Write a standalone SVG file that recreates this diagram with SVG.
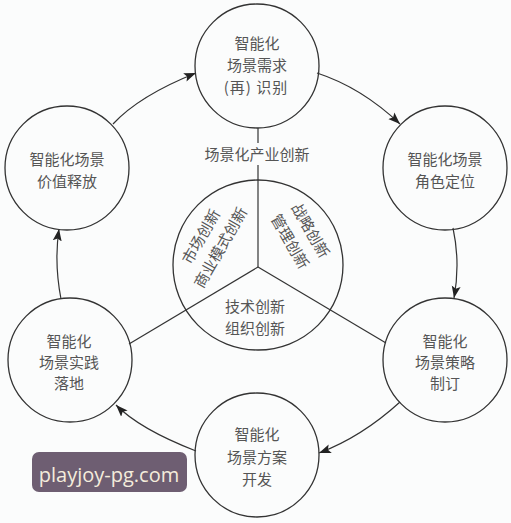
<svg xmlns="http://www.w3.org/2000/svg" width="511" height="523" viewBox="0 0 511 523">
<defs>
<style>
.c{fill:none;stroke:#333;stroke-width:1.3}
.l{fill:none;stroke:#333;stroke-width:1.2}
.t{font-family:"Noto Sans CJK SC","Noto Sans",sans-serif;font-size:15px;fill:#555;text-anchor:middle;dominant-baseline:central}
</style>
<marker id="ah" markerUnits="userSpaceOnUse" markerWidth="13" markerHeight="10" refX="12" refY="5" orient="auto">
<path d="M0,0.5 L12,5 L0,9.5 L2.5,5 z" fill="#222"/>
</marker>
</defs>
<rect width="511" height="523" fill="#fbfcfc"/>
<g id="connectors">
<path class="l" d="M317,73 Q361.5,87.5 400,124" marker-end="url(#ah)"/>
<path class="l" d="M453,228 Q460.5,263 454,298" marker-end="url(#ah)"/>
<path class="l" d="M400,402 Q361.5,437 319,453" marker-end="url(#ah)"/>
<path class="l" d="M196,451 Q139.5,429 116,405" marker-end="url(#ah)"/>
<path class="l" d="M61,299 Q54,262.5 59,229" marker-end="url(#ah)"/>
<path class="l" d="M113,124 Q139.5,95.5 196,73" marker-end="url(#ah)"/>
<line class="l" x1="258" y1="128" x2="258" y2="143"/>
<line class="l" x1="258" y1="165" x2="258" y2="267"/>
<line class="l" x1="258" y1="267" x2="129" y2="344"/>
<line class="l" x1="258" y1="267" x2="386" y2="343"/>
</g>
<g id="center">
<circle class="c" cx="258" cy="265" r="85"/>
<text class="t" x="257" y="153">场景化产业创新</text>
<text class="t" transform="translate(200,236) rotate(-60)">市场创新</text>
<text class="t" transform="translate(219.5,247) rotate(-60)">商业模式创新</text>
<text class="t" transform="translate(311.5,230) rotate(60)">战略创新</text>
<text class="t" transform="translate(291,241) rotate(60)">管理创新</text>
<text class="t" x="255" y="305">技术创新</text>
<text class="t" x="255" y="327">组织创新</text>
</g>
<g id="n-top">
<circle class="c" cx="257" cy="66" r="62"/>
<text class="t" x="257" y="42">智能化</text>
<text class="t" x="257" y="64">场景需求</text>
<text class="t" x="256" y="86" letter-spacing="1">(再) 识别</text>
</g>
<g id="n-tr">
<circle class="c" cx="445" cy="168" r="62"/>
<text class="t" x="445" y="158">智能化场景</text>
<text class="t" x="445" y="180">角色定位</text>
</g>
<g id="n-br">
<circle class="c" cx="445" cy="360" r="62"/>
<text class="t" x="445" y="340">智能化</text>
<text class="t" x="445" y="361">场景策略</text>
<text class="t" x="445" y="382">制订</text>
</g>
<g id="n-bottom">
<circle class="c" cx="257" cy="455" r="62"/>
<text class="t" x="257" y="433">智能化</text>
<text class="t" x="257" y="456">场景方案</text>
<text class="t" x="257" y="478">开发</text>
</g>
<g id="n-bl">
<circle class="c" cx="70" cy="360" r="62"/>
<text class="t" x="69" y="340">智能化</text>
<text class="t" x="69" y="361">场景实践</text>
<text class="t" x="69" y="382">落地</text>
</g>
<g id="n-tl">
<circle class="c" cx="67" cy="168" r="62"/>
<text class="t" x="67" y="158">智能化场景</text>
<text class="t" x="67" y="180">价值释放</text>
</g>
<g id="watermark">
<rect x="32" y="452" width="155" height="40" rx="7" fill="#6e5e72"/>
<text x="109" y="482" font-family="'Open Sans','DejaVu Sans',sans-serif" font-size="20" fill="#f4ecdc" text-anchor="middle">playjoy-pg.com</text>
</g>
</svg>
